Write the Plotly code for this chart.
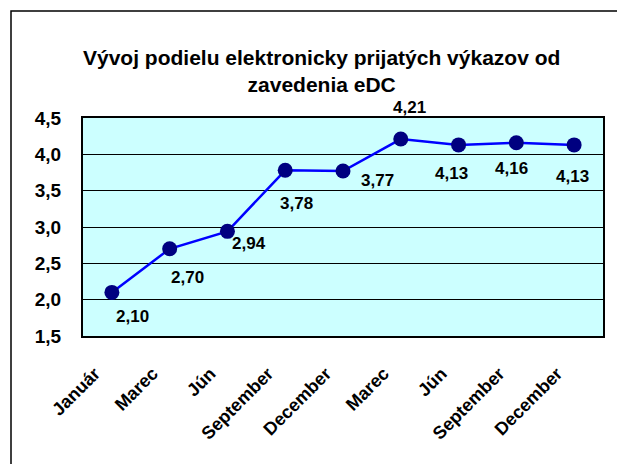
import plotly.graph_objects as go

months = ["Január", "Marec", "Jún", "September", "December", "Marec", "Jún", "September", "December"]
values = [2.10, 2.70, 2.94, 3.78, 3.77, 4.21, 4.13, 4.16, 4.13]
y_ticks = [1.5, 2.0, 2.5, 3.0, 3.5, 4.0, 4.5]
title_text = "Vývoj podielu elektronicky prijatých výkazov od<br>zavedenia eDC"

# label offsets in pixels (dx, dy-up) for each point's value label
label_shift = [(21, -24), (18, -29), (22, -12), (11, -33), (34, -9), (9, 32), (-7, -29), (-5, -26), (-2, -32)]

FONT = "Liberation Sans, Arial, sans-serif"
OFF = 8  # page body margin
W, H = 625 - OFF, 464 - OFF
L, T = 83 - OFF, 118 - OFF
R, B = 22, 128
pw, ph = W - L - R, H - T - B

xs = list(range(len(months)))

fig = go.Figure()
fig.add_trace(go.Scatter(
    x=xs, y=values, mode="lines+markers",
    line=dict(color="#0000FF", width=2.5),
    marker=dict(color="#000080", size=15, line=dict(width=0)),
    hoverinfo="skip", showlegend=False,
))

for x, v, (dx, dy) in zip(xs, values, label_shift):
    fig.add_annotation(
        x=x, y=v, xref="x", yref="y",
        text=f"{v:.2f}".replace(".", ","),
        showarrow=False, xshift=dx, yshift=dy,
        font=dict(family=FONT, size=17, color="black", weight="bold"),
    )

# title
fig.add_annotation(
    xref="paper", yref="paper",
    x=(321 - OFF - L) / pw, y=(H - B - (71 - OFF)) / ph,
    text=title_text, showarrow=False,
    xanchor="center", yanchor="middle",
    font=dict(family=FONT, size=21, color="black", weight="bold"),
)

# outer chart border
fig.add_shape(
    type="rect", xref="paper", yref="paper",
    x0=(11 - OFF - L) / pw, x1=(650 - L) / pw,
    y0=(H - B - 480) / ph, y1=(H - B - (11 - OFF)) / ph,
    line=dict(color="black", width=1.5), fillcolor="rgba(0,0,0,0)",
)

fig.update_layout(
    width=W, height=H,
    margin=dict(l=L, r=R, t=T, b=B),
    paper_bgcolor="white", plot_bgcolor="#CCFFFF",
    separators=",.",
    font=dict(family=FONT, color="black"),
)
fig.update_xaxes(
    range=[-0.5, len(months) - 0.5],
    tickvals=xs, ticktext=months,
    tickangle=-45, tickfont=dict(family=FONT, size=18, color="black", weight="bold"),
    showgrid=False, zeroline=False,
    showline=True, mirror=True, linecolor="black", linewidth=2,
    ticks="", ticklabelstandoff=18, ticklabelshift=-17,
)
fig.update_yaxes(
    range=[1.5, 4.5], tickvals=y_ticks, tickformat=".1f",
    tickfont=dict(family=FONT, size=19, color="black", weight="bold"),
    showgrid=True, gridcolor="black", gridwidth=1, zeroline=False,
    showline=True, mirror=True, linecolor="black", linewidth=2,
    ticks="", ticklabelstandoff=16,
)

fig.write_html("out.html", config={"displayModeBar": False})
